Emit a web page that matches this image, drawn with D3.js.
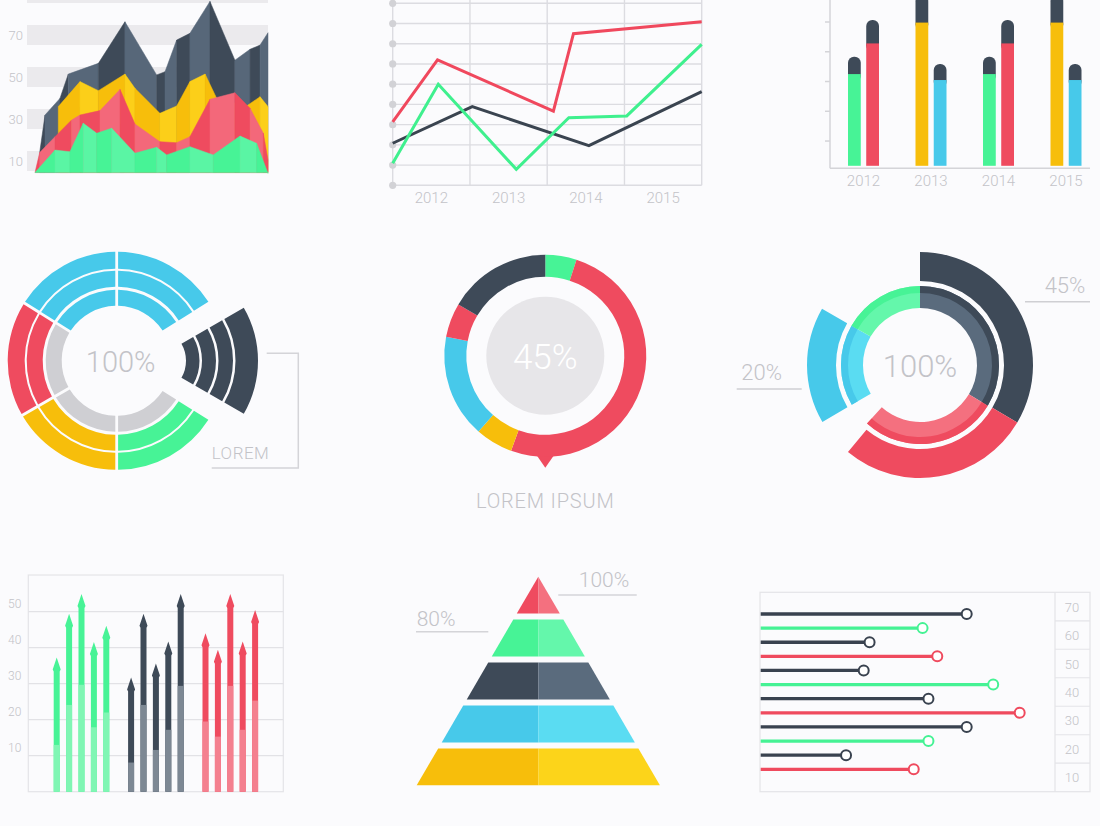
<!DOCTYPE html>
<html lang="en">
<head>
<meta charset="utf-8">
<title>Infographic charts</title>
<script src="https://d3js.org/d3.v7.min.js"></script>
<style>
  html, body { margin: 0; padding: 0; background: #fbfbfd; }
  svg { display: block; }
  text { font-family: Roboto, 'Open Sans', sans-serif; font-weight: 300; fill: #c3c3c8; }
</style>
</head>
<body>
<script>
// ---------- data ----------
// top-left stacked mountains: [x 0..100, value]
const areaBandValues = [90, 70, 50, 30, 10];
const areaTicks = [70, 50, 30, 10];
const areaBase = 4.5;
const areaDark = [[2,14],[4.3,31.9],[10.7,39.8],[14.3,51.4],[27.2,56.5],[38.6,76.3],[52.2,51],[55.8,52.5],[60.8,67.6],[66.5,70.8],[75.1,86],[85.8,58],[92.3,63.2],[96.6,65.2],[100,71.1]];
const areaYellow = [[10,35.9],[19.3,47.8],[27.2,43.5],[38.6,51.4],[42.9,44.6],[53.6,32.7],[60.8,36.2],[66.5,47.8],[73,51.4],[78,39.8],[90.8,36.2],[96.6,40.6],[100,35.9]];
const areaRed = [[0,4.5],[2,14],[8.6,21.6],[15.7,29.5],[19.3,31.9],[27.9,34],[36.5,44.1],[42.9,27.6],[53.6,19.2],[60.8,18.7],[66.5,21.6],[75.1,39.4],[85.8,42.5],[92.3,35.1],[98,23.2],[100,10.5]];
const areaGreen = [[0,4.5],[8.6,15.2],[15,14.4],[20.7,28],[26.5,23.2],[32.9,25.6],[42.9,13.7],[52.2,16.5],[56.5,12.9],[66.5,16.8],[76.5,12.9],[88,21.9],[95.1,18.4],[100,4.1]];

// top-middle line chart
const lineYears = ['2012', '2013', '2014', '2015'];
const lineRed = [[0,3.14],[0.58,6.2],[2.08,3.67],[2.34,7.5],[4,8.09]];
const lineGreen = [[0,1.09],[0.59,5.0],[1.6,0.79],[2.28,3.34],[3.03,3.43],[4,6.97]];
const lineDark = [[0,2.08],[1.03,3.89],[2.54,1.96],[4,4.63]];

// top-right capped bars
const barYears = ['2012', '2013', '2014', '2015'];
const barKinds = [['green','red'], ['yellow','blue'], ['green','red'], ['yellow','blue']];
const barMain = [[3.25,4.28], [4.98,3.05], [3.25,4.28], [4.98,3.05]];
const barCap = [[0.58,0.79], [0.92,0.54], [0.58,0.79], [0.92,0.54]];

// mid-left radial: spans in degrees from -58, colours per ring (outer -> inner)
const radialSpans = [58, 58, 64, 58, 60, 62];
const radialKinds = [
  ['blue','blue','blue'],
  ['blue','blue','blue'],
  [null, null, null],
  ['green','green','grey'],
  ['yellow','yellow','grey'],
  ['red','red','grey']
];
const wedgeRings = 4;

// centre donut (percent)
const donutValues = [5, 50.5, 6, 16.5, 5.5, 16.5];
const donutKinds = ['green', 'red', 'yellow', 'blue', 'red', 'dark'];

// right donut (percent)
const outerValues = [33.5, 27.5, 5.6, 16.7, 16.7];
const outerKinds = ['dark', 'red', null, 'blue', null];
const innerValues = [33.6, 28.1, 4.9, 16.7, 16.7];
const innerKinds = ['dark', 'red', null, 'blue', 'green'];

// bottom-left arrow bars
const arrowKinds = ['green', 'dark', 'red'];
const arrowTips = [[37.3,49.4,54.9,41.6,46.1], [31.7,49.4,35.6,41.7,54.9], [44,39.4,54.9,41.7,50.5]];
const arrowSplits = [[13,24.1,29.7,17.9,22], [8.1,24.1,11.6,17.2,29.4], [19.5,15.3,29.4,17.2,25.3]];
const arrowTicks = [10, 20, 30, 40, 50];

// pyramid
const pyramidKinds = ['red', 'green', 'dark', 'blue', 'yellow'];

// lollipops
const lollyKinds = ['dark','green','dark','red','dark','green','dark','red','dark','green','dark','red'];
const lollyValues = [70, 55, 37, 60, 35, 79, 57, 88, 70, 57, 29, 52];
const lollyLabels = [70, 60, 50, 40, 30, 20, 10];

// ---------- style ----------
const col = {
  dark: '#3e4a58', red: '#ef4b5f', green: '#47f396', yellow: '#f7be0b', blue: '#47c9ea', grey: '#cfcfd3'
};
const light = {
  dark: '#5a6b7d', red: '#f4707f', green: '#64f7ab', yellow: '#fcd41a', blue: '#5adcf2', grey: '#dcdce0'
};
const facetLight = {
  dark: '#576779', red: '#f3687a', green: '#5af5a4', yellow: '#fccf19'
};
const lineCol = '#dcdce1';

const svg = d3.select('body').append('svg')
  .attr('width', 1100)
  .attr('height', 826);

// ---------- top-left: mountains ----------
const aX = d3.scaleLinear().domain([0, 100]).range([35, 268]);
const aY = d3.scaleLinear().domain([0, 80]).range([182, 14]);
const p1 = svg.append('g');
p1.selectAll('rect').data(areaBandValues).enter().append('rect')
  .attr('x', 27).attr('width', 241)
  .attr('y', d => aY(d) - 10).attr('height', 20)
  .attr('fill', '#ebeaed');
p1.selectAll('text').data(areaTicks).enter().append('text')
  .attr('x', 23).attr('y', d => aY(d) + 5)
  .attr('text-anchor', 'end').attr('font-size', 13)
  .text(d => d);
const facet = d3.area().x(d => aX(d[0])).y0(aY(areaBase)).y1(d => aY(d[1]));
[[areaDark, 'dark'], [areaYellow, 'yellow'], [areaRed, 'red'], [areaGreen, 'green']].forEach(([pts, k]) => {
  p1.append('g').selectAll('path').data(d3.pairs(pts)).enter().append('path')
    .attr('d', d => facet(d))
    .attr('fill', (d, i) => i % 2 ? facetLight[k] : col[k])
    .attr('stroke', (d, i) => i % 2 ? facetLight[k] : col[k])
    .attr('stroke-width', 0.5);
});

// ---------- top-middle: lines ----------
const lX = d3.scaleLinear().domain([0, 4]).range([392.7, 701.7]);
const lY = d3.scaleLinear().domain([0, 9]).range([185.3, 3.3]);
const p2 = svg.append('g');
p2.selectAll('line.h').data(d3.range(0, 10)).enter().append('line')
  .attr('x1', lX(0)).attr('x2', lX(4))
  .attr('y1', d => lY(d)).attr('y2', d => lY(d))
  .attr('stroke', lineCol).attr('stroke-width', 1.4);
p2.selectAll('line.v').data(d3.range(0, 5)).enter().append('line')
  .attr('x1', d => lX(d)).attr('x2', d => lX(d))
  .attr('y1', 0).attr('y2', lY(0))
  .attr('stroke', lineCol).attr('stroke-width', 1.4);
p2.selectAll('circle').data(d3.range(0, 10)).enter().append('circle')
  .attr('cx', lX(0)).attr('cy', d => lY(d)).attr('r', 3.6)
  .attr('fill', '#d2d2d6');
p2.selectAll('text').data(lineYears).enter().append('text')
  .attr('x', (d, i) => lX(i + 0.5)).attr('y', 203)
  .attr('text-anchor', 'middle').attr('font-size', 15)
  .text(d => d);
const ln = d3.line().x(d => lX(d[0])).y(d => lY(d[1]));
[[lineDark, '#3a4450'], [lineRed, '#f0485d'], [lineGreen, '#3ff08e']].forEach(([pts, c]) => {
  p2.append('path').attr('d', ln(pts))
    .attr('fill', 'none').attr('stroke', c).attr('stroke-width', 3)
    .attr('stroke-linejoin', 'miter');
});

// ---------- top-right: capped bars ----------
const bX = d3.scaleBand().domain(barYears).range([829.75, 1099.75]);
const bIn = d3.scaleBand().domain([0, 1]).range([-15.5, 15.5]).paddingInner(0.3);
const bY = d3.scaleLinear().domain([0, 5]).range([170.8, 22]);
const bAxisY = bY(0) - 2.5;
const p3 = svg.append('g');
p3.append('line').attr('x1', 830).attr('x2', 830).attr('y1', 0).attr('y2', bAxisY)
  .attr('stroke', '#d4d4d8').attr('stroke-width', 1.5);
p3.append('line').attr('x1', 830).attr('x2', 1090).attr('y1', bAxisY).attr('y2', bAxisY)
  .attr('stroke', '#d4d4d8').attr('stroke-width', 1.5);
p3.selectAll('line.t').data([1, 2, 3, 4, 5]).enter().append('line')
  .attr('x1', 825).attr('x2', 830).attr('y1', d => bY(d)).attr('y2', d => bY(d))
  .attr('stroke', '#d4d4d8').attr('stroke-width', 1.5);
barYears.forEach((yr, i) => {
  [0, 1].forEach(j => {
    const x = bX(yr) + bX.bandwidth() / 2 + bIn(j);
    const w = bIn.bandwidth();
    const m = barMain[i][j], c = barCap[i][j];
    p3.append('rect').attr('x', x).attr('width', w)
      .attr('y', bY(m + c)).attr('height', bY(m) - bY(m + c) + 8)
      .attr('rx', 6).attr('fill', col.dark);
    p3.append('rect').attr('x', x).attr('width', w)
      .attr('y', bY(m)).attr('height', bY(0) - 5 - bY(m))
      .attr('fill', col[barKinds[i][j]]);
  });
});
p3.selectAll('text').data(barYears).enter().append('text')
  .attr('x', d => bX(d) + bX.bandwidth() / 2).attr('y', 186)
  .attr('text-anchor', 'middle').attr('font-size', 15)
  .text(d => d);

// ---------- mid-left: radial rings ----------
const deg = Math.PI / 180;
const rCx = 116.7, rCy = 360.8;
const ringRadii = [[92, 109], [74, 90], [55, 71]];
const rPie = d3.pie().sort(null).value(d => d)
  .startAngle(-58 * deg).endAngle(302 * deg);
const rSlices = rPie(radialSpans);
const p4 = svg.append('g').attr('transform', `translate(${rCx},${rCy})`);
ringRadii.forEach((rr, r) => {
  const arc = d3.arc().innerRadius(rr[0]).outerRadius(rr[1]).padAngle(0.028).padRadius(100);
  p4.append('g').selectAll('path').data(rSlices.filter((s, i) => radialKinds[i][r])).enter()
    .append('path')
    .attr('d', d => arc({startAngle: d.startAngle, endAngle: d.endAngle}))
    .attr('fill', d => col[radialKinds[d.index][r]]);
});
p4.append('text').attr('x', 4).attr('y', 11).attr('text-anchor', 'middle')
  .attr('font-size', 29).attr('fill', '#c5c5ca').text('100%');
// exploded wedge
const wedgeR = [[34, 47.5], [50, 64], [66.5, 81], [83.5, 106]].slice(0, wedgeRings);
const pw = svg.append('g').attr('transform', `translate(152,${rCy})`);
pw.selectAll('path').data(wedgeR).enter().append('path')
  .attr('d', d => d3.arc()({innerRadius: d[0], outerRadius: d[1], startAngle: 60 * deg, endAngle: 120 * deg}))
  .attr('fill', col.dark);
svg.append('path').attr('d', 'M266.7,353.3H298.3V468H211.7')
  .attr('fill', 'none').attr('stroke', '#d4d4d8').attr('stroke-width', 1.5);
svg.append('text').attr('x', 211.7).attr('y', 459).attr('font-size', 17)
  .attr('letter-spacing', 0.5).text('LOREM');

// ---------- centre donut ----------
const dCx = 545.3, dCy = 355.8;
const p5 = svg.append('g').attr('transform', `translate(${dCx},${dCy})`);
const dPie = d3.pie().sort(null).value(d => d);
const dArc = d3.arc().innerRadius(79).outerRadius(101);
p5.append('path').attr('d', 'M-9,99L0,112L9,99Z').attr('fill', col.red);
p5.selectAll('path.s').data(dPie(donutValues)).enter().append('path')
  .attr('d', dArc).attr('fill', d => col[donutKinds[d.index]]);
p5.append('circle').attr('r', 59).attr('fill', '#e7e6e9');
p5.append('text').attr('y', 13).attr('text-anchor', 'middle')
  .attr('font-size', 35).style('fill', '#ffffff').text('45%');
svg.append('text').attr('x', dCx).attr('y', 508).attr('text-anchor', 'middle')
  .attr('font-size', 20).attr('letter-spacing', 0.8).text('LOREM IPSUM');

// ---------- right donut ----------
const eCx = 920, eCy = 365;
const p6 = svg.append('g').attr('transform', `translate(${eCx},${eCy})`);
const ePie = d3.pie().sort(null).value(d => d);
const outerArc = d3.arc().innerRadius(84).outerRadius(113);
p6.selectAll('path.o').data(ePie(outerValues).filter(d => outerKinds[d.index])).enter().append('path')
  .attr('d', outerArc).attr('fill', d => col[outerKinds[d.index]]);
const innerSlices = ePie(innerValues).filter(d => innerKinds[d.index]);
const innerArc = d3.arc().innerRadius(57).outerRadius(79);
const innerEdge = d3.arc().innerRadius(72).outerRadius(79);
p6.selectAll('path.i').data(innerSlices).enter().append('path')
  .attr('d', innerArc).attr('fill', d => light[innerKinds[d.index]]);
p6.selectAll('path.e').data(innerSlices).enter().append('path')
  .attr('d', innerEdge).attr('fill', d => col[innerKinds[d.index]]);
p6.append('text').attr('y', 12).attr('text-anchor', 'middle')
  .attr('font-size', 31).attr('fill', '#c5c5ca').text('100%');
svg.append('line').attr('x1', 1025).attr('x2', 1090).attr('y1', 301.7).attr('y2', 301.7)
  .attr('stroke', '#cfcfd3').attr('stroke-width', 1.5);
svg.append('text').attr('x', 1065).attr('y', 293).attr('text-anchor', 'middle')
  .attr('font-size', 22).text('45%');
svg.append('line').attr('x1', 736.7).attr('x2', 801.7).attr('y1', 389).attr('y2', 389)
  .attr('stroke', '#cfcfd3').attr('stroke-width', 1.5);
svg.append('text').attr('x', 761.7).attr('y', 380).attr('text-anchor', 'middle')
  .attr('font-size', 22).text('20%');

// ---------- bottom-left: arrow bars ----------
const gX = d3.scaleLinear().domain([0, 16]).range([56.7, 255.1]);
const gY = d3.scaleLinear().domain([0, 60]).range([791.7, 575.7]);
const p7 = svg.append('g');
p7.append('rect').attr('x', 28.3).attr('y', 575).attr('width', 255).attr('height', 216.7)
  .attr('fill', 'none').attr('stroke', '#e4e4e8').attr('stroke-width', 1.2);
p7.selectAll('line').data(arrowTicks).enter().append('line')
  .attr('x1', 28.3).attr('x2', 283.3).attr('y1', d => gY(d)).attr('y2', d => gY(d))
  .attr('stroke', '#e2e2e6').attr('stroke-width', 1.2);
p7.selectAll('text').data(arrowTicks).enter().append('text')
  .attr('x', 8).attr('y', d => gY(d) - 4).attr('font-size', 12).text(d => d);
const arrowPath = (x, tipY, baseY) => {
  return `M${x - 3},${baseY}V${tipY + 14}L${x - 4},${tipY + 12}L${x},${tipY}L${x + 4},${tipY + 12}L${x + 3},${tipY + 14}V${baseY}Z`;
};
arrowKinds.forEach((k, g) => {
  arrowTips[g].forEach((tip, i) => {
    const x = gX(g * 6 + i);
    p7.append('path').attr('d', arrowPath(x, gY(tip), gY(0))).attr('fill', col[k]);
    p7.append('rect').attr('x', x - 3).attr('width', 6)
      .attr('y', gY(arrowSplits[g][i])).attr('height', gY(0) - gY(arrowSplits[g][i]))
      .attr('fill', k === 'dark' ? '#7d8894' : (k === 'red' ? '#f4808f' : '#80f6b4'));
  });
});

// ---------- pyramid ----------
const pyApexX = 538.3, pyTop = 576.7, pyBottom = 785.3, pyHalf = 121.6;
const pyY = d3.scaleBand().domain(pyramidKinds).range([pyTop, pyBottom]).paddingInner(0.14);
const pyW = d3.scaleLinear().domain([pyTop, pyBottom]).range([0, pyHalf]);
const p8 = svg.append('g');
pyramidKinds.forEach(k => {
  const y0 = pyY(k), y1 = pyY(k) + pyY.bandwidth();
  const w0 = pyW(y0), w1 = pyW(y1);
  p8.append('path')
    .attr('d', `M${pyApexX - w0},${y0}L${pyApexX},${y0}L${pyApexX},${y1}L${pyApexX - w1},${y1}Z`)
    .attr('fill', col[k]);
  p8.append('path')
    .attr('d', `M${pyApexX},${y0}L${pyApexX + w0},${y0}L${pyApexX + w1},${y1}L${pyApexX},${y1}Z`)
    .attr('fill', light[k]);
});
svg.append('line').attr('x1', 558.3).attr('x2', 636.7).attr('y1', 595).attr('y2', 595)
  .attr('stroke', '#d4d4d8').attr('stroke-width', 1.5);
svg.append('text').attr('x', 604).attr('y', 587).attr('text-anchor', 'middle')
  .attr('font-size', 21).text('100%');
svg.append('line').attr('x1', 416).attr('x2', 488.3).attr('y1', 631.7).attr('y2', 631.7)
  .attr('stroke', '#d4d4d8').attr('stroke-width', 1.5);
svg.append('text').attr('x', 416.7).attr('y', 626).attr('font-size', 21).text('80%');

// ---------- bottom-right: lollipops ----------
const oX = d3.scaleLinear().domain([0, 100]).range([760.7, 1055]);
const oY = d3.scalePoint().domain(d3.range(lollyValues.length)).range([614, 769.3]);
const cellY = d3.scaleBand().domain(lollyLabels).range([592.3, 791.7]);
const p9 = svg.append('g');
p9.append('rect').attr('x', 760).attr('y', 592.3).attr('width', 330).attr('height', 199.4)
  .attr('fill', 'none').attr('stroke', '#e4e4e8').attr('stroke-width', 1.2);
p9.append('line').attr('x1', 1055).attr('x2', 1055).attr('y1', 592.3).attr('y2', 791.7)
  .attr('stroke', '#e4e4e8').attr('stroke-width', 1.2);
p9.selectAll('line.c').data(lollyLabels.slice(1)).enter().append('line')
  .attr('x1', 1055).attr('x2', 1090).attr('y1', d => cellY(d)).attr('y2', d => cellY(d))
  .attr('stroke', '#e4e4e8').attr('stroke-width', 1.2);
p9.selectAll('text').data(lollyLabels).enter().append('text')
  .attr('x', 1072).attr('y', d => cellY(d) + cellY.bandwidth() / 2 + 5)
  .attr('text-anchor', 'middle').attr('font-size', 13).text(d => d);
const lollyStroke = {dark: '#39424f', green: '#45f294', red: '#ef4a5e'};
lollyValues.forEach((v, i) => {
  const k = lollyKinds[i];
  p9.append('line').attr('x1', oX(0)).attr('x2', oX(v) - 5)
    .attr('y1', oY(i)).attr('y2', oY(i))
    .attr('stroke', lollyStroke[k]).attr('stroke-width', 3.3);
  p9.append('circle').attr('cx', oX(v)).attr('cy', oY(i)).attr('r', 5)
    .attr('fill', '#ffffff').attr('stroke', lollyStroke[k]).attr('stroke-width', 2);
});
</script>
</body>
</html>
